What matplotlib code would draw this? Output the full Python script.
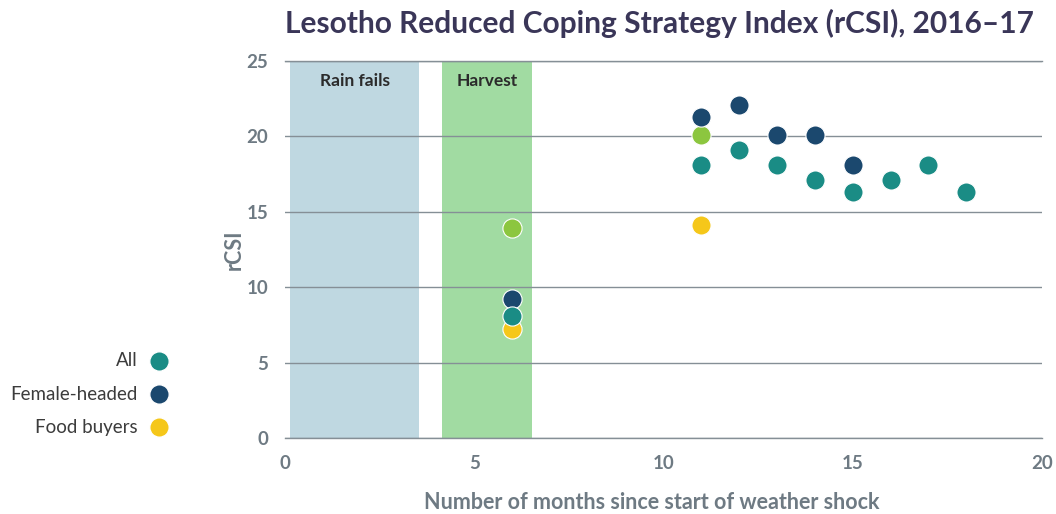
import matplotlib
matplotlib.use("Agg")
from matplotlib import pyplot as plt
from matplotlib.lines import Line2D

# data
all_x = [6, 11, 12, 13, 14, 15, 16, 17, 18]
all_y = [8.1, 18.1, 19.1, 18.1, 17.1, 16.3, 17.1, 18.1, 16.3]
female_x = [6, 11, 12, 13, 14, 15]
female_y = [9.2, 21.3, 22.1, 20.1, 20.1, 18.1]
buyers_x = [6, 11]
buyers_y = [7.2, 14.1]
other_x = [6, 11]
other_y = [13.9, 20.1]

bands = [("Rain fails", 0.13, 3.55, "#bfd8e1"), ("Harvest", 4.15, 6.52, "#a1dba2")]

teal = "#1a8c85"
navy = "#1b486e"
yellow = "#f5c71a"
lime = "#8cc63f"
gray = "#6e7a83"

plt.rcParams["font.family"] = ["Lato", "DejaVu Sans"]

fig = plt.figure(figsize=(10.56, 5.14), dpi=100)
ax = fig.add_axes([0.2699, 0.1479, 0.7168, 0.7334])

for name, x0, x1, c in bands:
    ax.axvspan(x0, x1, color=c, lw=0, zorder=0)
    ax.text((x0 + x1) / 2, 23.7, name, ha="center", va="center",
            fontsize=12.5, fontweight="bold", color="#2b2b2b")

ax.set_xlim(0, 20)
ax.set_ylim(0, 25)
ax.set_xticks([0, 5, 10, 15, 20])
ax.set_yticks([0, 5, 10, 15, 20, 25])
ax.grid(axis="y", color="#858f96", lw=1, zorder=1)
ax.axhline(0, color="#858f96", lw=1, zorder=1, clip_on=False)
ax.axhline(25, color="#858f96", lw=1, zorder=1, clip_on=False)
for s in ax.spines.values():
    s.set_visible(False)
ax.tick_params(length=0, labelsize=13.5, labelcolor=gray, pad=12)
for lab in ax.get_xticklabels() + ax.get_yticklabels():
    lab.set_fontweight("bold")

kw = dict(s=190, edgecolors="white", linewidths=0.8, zorder=3)
ax.scatter(other_x, other_y, color=lime, **kw)
ax.scatter(buyers_x, buyers_y, color=yellow, **kw)
ax.scatter(female_x, female_y, color=navy, **kw)
ax.scatter(all_x, all_y, color=teal, **kw)

ax.set_ylabel("rCSI", fontsize=15.5, fontweight="bold", color=gray)
ax.yaxis.set_label_coords(-0.053, 0.5)
ax.set_xlabel("Number of months since start of weather shock", fontsize=15.5,
              fontweight="bold", color=gray)
ax.xaxis.set_label_coords(0.485, -0.17)
ax.xaxis.label.set_va("center")

fig.text(0.27, 0.955, "Lesotho Reduced Coping Strategy Index (rCSI), 2016\u201317",
         fontsize=21.5, fontweight="bold", color="#3a3658", ha="left", va="center")

# legend on the left
for i, (lab, c) in enumerate([("All", teal), ("Female-headed", navy), ("Food buyers", yellow)]):
    yy = 1 - (361 + 33 * i) / 514
    fig.text(138 / 1056, yy, lab, ha="right", va="center", fontsize=13.5, color="#3c3c3c")
    fig.add_artist(Line2D([159 / 1056], [yy], marker="o", markersize=14,
                          color=c, markeredgecolor="white", ls="none"))

fig.savefig("out.png", dpi=100)
